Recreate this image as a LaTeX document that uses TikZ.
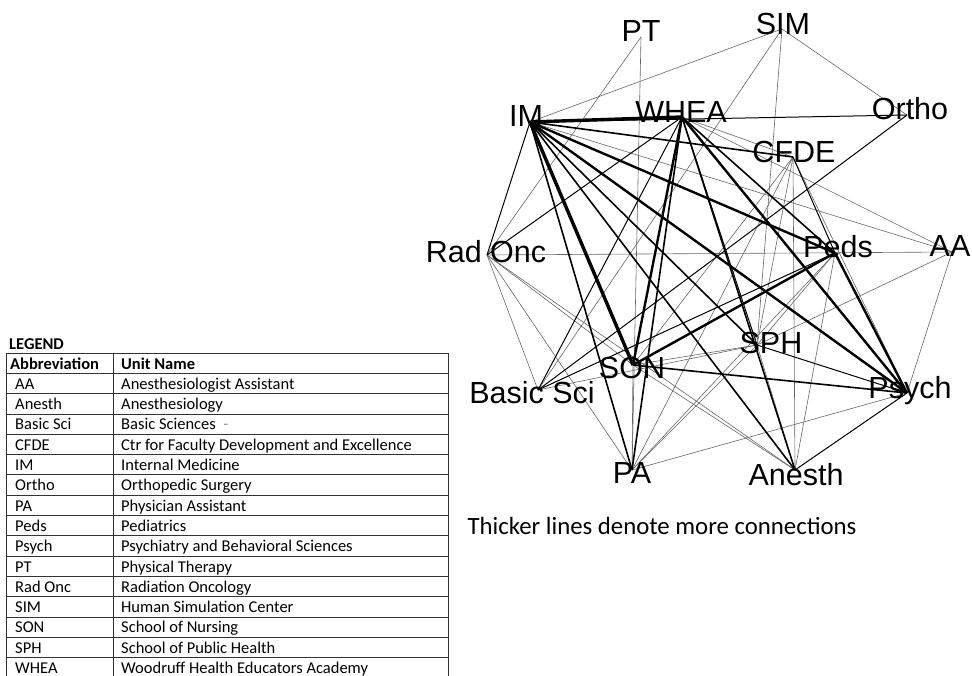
\documentclass[tikz,border=0pt]{standalone}
\usepackage{fontspec}
\setmainfont{Carlito}
\newfontfamily\netfont{Liberation Sans}

\begin{document}
\begin{tikzpicture}[x=1pt,y=-1pt,
  lbl/.style={font=\netfont\fontsize{30.5}{30.5}\selectfont,inner sep=0pt,anchor=base},
  w1/.style={line width=0.6pt,black!60},
  w2/.style={line width=1pt},
  w3/.style={line width=1.6pt},
  w4/.style={line width=2.4pt},
  w5/.style={line width=3.4pt},
  cell/.style={font=\fontsize{16.5}{16.5}\selectfont,inner sep=0pt,anchor=base west},
  rule/.style={line width=0.7pt,black!80}]
\useasboundingbox (0,0) rectangle (972,676);
%NETWORK POINTS
\coordinate (IM) at (530,122);
\coordinate (PT) at (641,37);
\coordinate (WHEA) at (682,117);
\coordinate (SIM) at (782,29);
\coordinate (Ortho) at (907,115);
\coordinate (CFDE) at (793,157);
\coordinate (RadOnc) at (487,255);
\coordinate (BasicSci) at (538,390);
\coordinate (SON) at (633,365);
\coordinate (PA) at (632,470);
\coordinate (Peds) at (835,253);
\coordinate (AA) at (952,252);
\coordinate (SPH) at (757,345);
\coordinate (Psych) at (907,393);
\coordinate (Anesth) at (795,470);
%EDGES
\foreach \a/\b in {IM/SIM,IM/AA,SIM/Ortho,SIM/SPH,SIM/BasicSci,PT/PA,PT/RadOnc,
    RadOnc/AA,RadOnc/BasicSci,RadOnc/PA,RadOnc/SON,RadOnc/Anesth,WHEA/CFDE,WHEA/AA,
    CFDE/PA,CFDE/SPH,CFDE/Anesth,CFDE/Psych,CFDE/SON,SON/SPH,SON/PA,SON/Anesth,
    Peds/PA,Peds/Anesth,Peds/SPH,AA/SPH,AA/Psych,SPH/Anesth,SPH/PA,Psych/PA,BasicSci/SPH}
  \draw[w1] (\a) -- (\b);
\foreach \a/\b in {IM/Ortho,IM/RadOnc,WHEA/RadOnc,WHEA/BasicSci,WHEA/SPH,CFDE/Peds,
    BasicSci/Ortho,BasicSci/Peds,SPH/Psych,Psych/Anesth}
  \draw[w2] (\a) -- (\b);
\foreach \a/\b in {IM/CFDE,IM/SPH,IM/Anesth,IM/PA,WHEA/PA,WHEA/Peds,WHEA/Anesth,SON/Psych}
  \draw[w3] (\a) -- (\b);
\foreach \a/\b in {IM/Peds,IM/Psych,WHEA/SON,WHEA/Psych,SON/Peds,Peds/Psych}
  \draw[w4] (\a) -- (\b);
\foreach \a/\b in {IM/WHEA,IM/SON}
  \draw[w5] (\a) -- (\b);
%LABELS
\node[lbl] (lIM) at (526,127) {IM};
\node[lbl] (lPT) at (641,42) {PT};
\node[lbl] (lWHEA) at (681,123) {WHEA};
\node[lbl] (lSIM) at (783,35) {SIM};
\node[lbl] (lOrtho) at (910,120) {Ortho};
\node[lbl] (lCFDE) at (794,163) {CFDE};
\node[lbl] (lRadOnc) at (486,263) {Rad Onc};
\node[lbl] (lBasicSci) at (532,403) {Basic Sci};
\node[lbl] (lSON) at (632,378) {SON};
\node[lbl] (lPA) at (632,483) {PA};
\node[lbl] (lPeds) at (838,258) {Peds};
\node[lbl] (lAA) at (950,257) {AA};
\node[lbl] (lSPH) at (771,353) {SPH};
\node[lbl] (lPsych) at (910,398) {Psych};
\node[lbl] (lAnesth) at (796,485) {Anesth};
\node[font=\fontsize{24.8}{24.8}\selectfont,inner sep=0pt,anchor=base] (note) at (662,534)
  {Thicker lines denote more connections};
%LEGEND
\node[cell,font=\bfseries\fontsize{16.5}{16.5}\selectfont] (legend) at (9,349) {LEGEND};
\foreach \k in {0,...,16}
  \draw[rule] (6.7,353+20.3*\k) -- (448,353+20.3*\k);
\foreach \x in {6.7,113,448}
  \draw[rule] (\x,353) -- (\x,678);
\node[cell,font=\bfseries\fontsize{16.5}{16.5}\selectfont] (habbr) at (10,369) {Abbreviation};
\node[cell,font=\bfseries\fontsize{16.5}{16.5}\selectfont] (hname) at (121,369) {Unit Name};
\foreach \ab/\un [count=\i] in {AA/Anesthesiologist Assistant,Anesth/Anesthesiology,
    Basic Sci/Basic Sciences \ {\color{black!40}-},CFDE/Ctr for Faculty Development and Excellence,
    IM/Internal Medicine,Ortho/Orthopedic Surgery,PA/Physician Assistant,Peds/Pediatrics,
    Psych/Psychiatry and Behavioral Sciences,PT/Physical Therapy,Rad Onc/Radiation Oncology,
    SIM/Human Simulation Center,SON/School of Nursing,SPH/School of Public Health,
    WHEA/Woodruff Health Educators Academy}
{
  \node[cell] (ab\i) at (15,369+20.3*\i) {\ab};
  \node[cell] (un\i) at (121,369+20.3*\i) {\un};
}
\end{tikzpicture}
\end{document}
